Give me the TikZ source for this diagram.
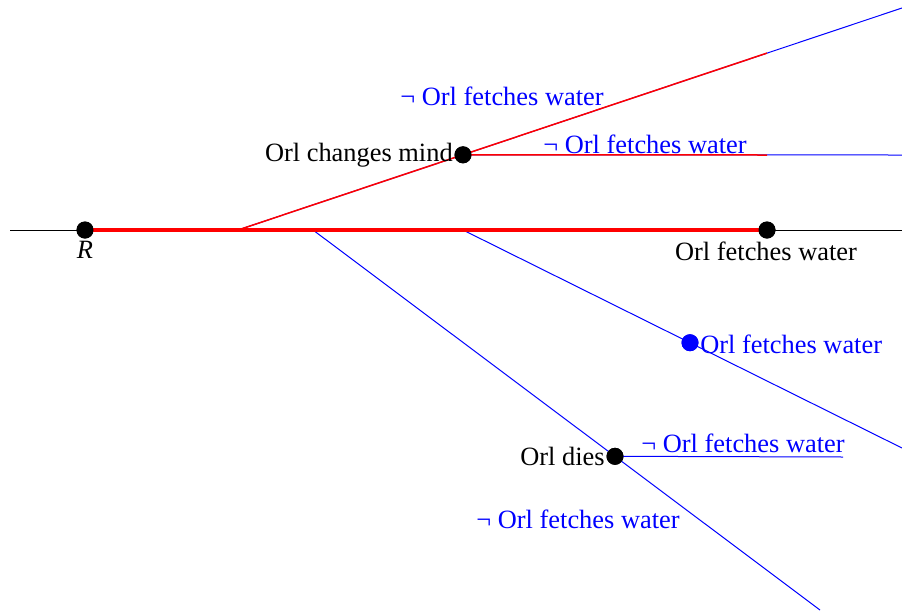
\documentclass[tikz,border=0pt]{standalone}
\usepackage{fontspec}
\setmainfont{Liberation Serif}
\begin{document}
\begin{tikzpicture}[x=0.5pt, y=-0.5pt,
    dot/.style={circle, fill=black, inner sep=0pt, minimum size=8.5pt},
    lbl/.style={font=\fontsize{13.2}{15}\selectfont, inner sep=0.5pt},
    branch/.style={blue, line width=0.5pt},
    hist/.style={red, line width=0.75pt}]
    \useasboundingbox (0,0) rectangle (902,612);

    % Main time line
    \coordinate (west) at (10,230);
    \coordinate (east) at (902,230);
    \draw[line width=0.5pt] (west) -- (east);

    % Branching points on the main line
    \coordinate (b1) at (238,230);
    \coordinate (b2) at (313,230);
    \coordinate (b3) at (463,230);

    % Loose ends of the branches
    \coordinate (up) at (902,8);
    \coordinate (upred) at (767,53.1);
    \coordinate (mid) at (902,155);
    \coordinate (midred) at (767,155);
    \coordinate (low) at (902,448);
    \coordinate (down) at (820,610);
    \coordinate (diesend) at (843,457);

    % Events
    \node[dot] (R) at (85,230) {};
    \node[dot] (fw) at (767,230) {};
    \node[dot] (cm) at (463,154.8) {};
    \node[dot, fill=blue] (bd) at (690,342.7) {};
    \node[dot] (dies) at (615,456.3) {};

    % Alternative branches
    \draw[branch] (b1) -- (up);
    \draw[branch] (cm.center) -- (mid);
    \draw[branch] (b3) -- (low);
    \draw[branch] (b2) -- (down);
    \draw[branch] (dies.center) -- (diesend);

    % Actual history
    \draw[hist] (b1) -- (upred);
    \draw[hist] (cm.center) -- (midred);
    \draw[red, line width=1.7pt] (R.center) -- (fw.center);

    % Dots again on top
    \node[dot] at (R) {};
    \node[dot] at (fw) {};
    \node[dot] at (cm) {};
    \node[dot, fill=blue] at (bd) {};
    \node[dot] at (dies) {};

    % Labels
    \node[lbl] (lR) at (85,250) {\textit{R}};
    \node[lbl, anchor=east] (lcm) at (cm.west) {Orl changes mind};
    \node[lbl] (lfw) at (766,251) {Orl fetches water};
    \node[lbl, blue, anchor=west] (lbd) at ([yshift=-1pt]bd.east) {Orl fetches water};
    \node[lbl, anchor=east] (ldies) at (dies.west) {Orl dies};
    \node[lbl, blue] (nup) at (502,96) {¬ Orl fetches water};
    \node[lbl, blue] (nmid) at (645,144) {¬ Orl fetches water};
    \node[lbl, blue] (ndies) at (743,443) {¬ Orl fetches water};
    \node[lbl, blue] (ndown) at (578,519) {¬ Orl fetches water};

\end{tikzpicture}
\end{document}
